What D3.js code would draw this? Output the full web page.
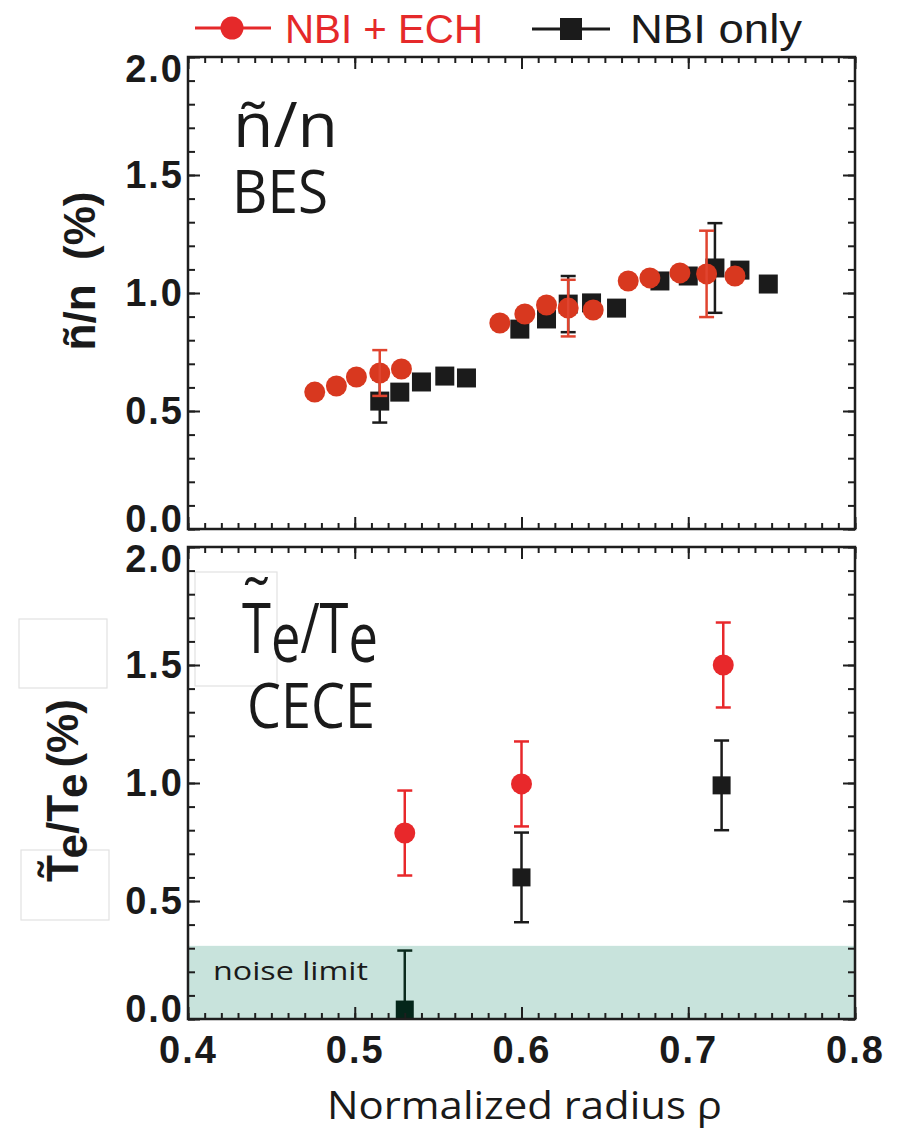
<!DOCTYPE html>
<html>
<head>
<meta charset="utf-8">
<script src="https://cdn.jsdelivr.net/npm/d3@7"></script>
<style>
body { margin: 0; background: #fff; }
svg { display: block; }
</style>
</head>
<body>
<div id="chart"></div>
<script>
//
// BES / CECE fluctuation profiles, NBI+ECH vs NBI only
//

var rhoTicks = [0.4, 0.5, 0.6, 0.7, 0.8];
var valTicks = [0.0, 0.5, 1.0, 1.5, 2.0];

// top panel: density fluctuation (BES)
var besEchRho = [0.476, 0.489, 0.501, 0.515, 0.528, 0.587, 0.602, 0.615, 0.628, 0.643, 0.664, 0.677, 0.695, 0.711, 0.728];
var besEchVal = [0.580, 0.606, 0.644, 0.661, 0.678, 0.873, 0.911, 0.949, 0.936, 0.928, 1.051, 1.064, 1.085, 1.081, 1.072];
var besEchErr = [0, 0, 0, 0.097, 0, 0, 0, 0, 0.120, 0, 0, 0, 0, 0.183, 0];

var besNbiRho = [0.515, 0.527, 0.540, 0.554, 0.567, 0.599, 0.615, 0.628, 0.642, 0.657, 0.683, 0.700, 0.716, 0.731, 0.748];
var besNbiVal = [0.542, 0.580, 0.623, 0.648, 0.640, 0.847, 0.890, 0.953, 0.958, 0.936, 1.051, 1.072, 1.106, 1.097, 1.038];
var besNbiErr = [0.091, 0, 0, 0, 0, 0, 0, 0.119, 0, 0, 0, 0, 0.190, 0, 0];

// bottom panel: electron temperature fluctuation (CECE)
var ceceEchRho = [0.530, 0.600, 0.721];
var ceceEchVal = [0.788, 0.996, 1.500];
var ceceEchErr = [0.180, 0.180, 0.180];

var ceceNbiRho = [0.530, 0.600, 0.720];
var ceceNbiVal = [0.040, 0.600, 0.990];
var ceceNbiErr = [0.250, 0.190, 0.190];

var noiseLimit = 0.31;

var W = 900, H = 1133;
var left = 188, right = 855;
var topPanel = { y0: 529, y1: 57 };
var botPanel = { y0: 1019, y1: 547 };

var svg = d3.select("#chart").append("svg")
    .attr("width", W).attr("height", H);

var x = d3.scaleLinear().domain([0.4, 0.8]).range([left, right]);
var yTop = d3.scaleLinear().domain([0, 2]).range([topPanel.y0, topPanel.y1]);
var yBot = d3.scaleLinear().domain([0, 2]).range([botPanel.y0, botPanel.y1]);

var frameColor = "#1e1e1e";
var redTop = "#d8381f", redTopBar = "#e0442f";
var redBot = "#e8282b";
var blk = "#1b1b1b";

// faint pasted boxes left over in the figure
[[19, 619, 88, 69], [195, 572, 82, 114], [21, 850, 88, 70]].forEach(function (b) {
    svg.append("rect").attr("x", b[0]).attr("y", b[1]).attr("width", b[2]).attr("height", b[3])
        .attr("fill", "#fff").attr("stroke", "#e2e2e2").attr("stroke-width", 1.2);
});

function zip(r, v, e) {
    return r.map(function (d, i) { return { r: d, v: v[i], e: e[i] }; });
}

function drawTicks(g, y) {
    var y0 = y.range()[0], y1 = y.range()[1];
    var xMinor = x.ticks(40), yMinor = y.ticks(20);
    var sets = [
        [d3.axisBottom(x).tickValues(xMinor).tickSize(-6), "translate(0," + y0 + ")"],
        [d3.axisBottom(x).tickValues(rhoTicks).tickSize(-12), "translate(0," + y0 + ")"],
        [d3.axisTop(x).tickValues(xMinor).tickSize(-6), "translate(0," + y1 + ")"],
        [d3.axisTop(x).tickValues(rhoTicks).tickSize(-12), "translate(0," + y1 + ")"],
        [d3.axisLeft(y).tickValues(yMinor).tickSize(-7), "translate(" + left + ",0)"],
        [d3.axisLeft(y).tickValues(valTicks).tickSize(-12), "translate(" + left + ",0)"],
        [d3.axisRight(y).tickValues(yMinor).tickSize(-7), "translate(" + right + ",0)"],
        [d3.axisRight(y).tickValues(valTicks).tickSize(-12), "translate(" + right + ",0)"]
    ];
    sets.forEach(function (s) {
        var a = g.append("g").attr("transform", s[1])
            .call(s[0].tickSizeOuter(0).tickFormat(""));
        a.select(".domain").remove();
        a.selectAll("line").attr("stroke", frameColor).attr("stroke-width", 2);
    });

    // y tick labels
    var lab = g.append("g").attr("transform", "translate(" + (left - 4) + ",0)")
        .call(d3.axisLeft(y).tickValues(valTicks).tickSize(0).tickPadding(0).tickFormat(d3.format(".1f")));
    lab.select(".domain").remove();
    lab.selectAll("text")
        .attr("font-family", "Liberation Sans, Arial, sans-serif")
        .attr("font-weight", "bold")
        .attr("font-size", 38)
        .attr("letter-spacing", 2)
        .attr("fill", "#1a1a1a")
        .attr("y", function (d) { return d === 2 ? 12 : (d === 0 ? -10 : 0); });

    g.append("rect").attr("x", left).attr("y", y1)
        .attr("width", right - left).attr("height", y0 - y1)
        .attr("fill", "none").attr("stroke", frameColor).attr("stroke-width", 2.5);
}

function errBars(g, data, y, color) {
    var cap = 7.5;
    data.filter(function (d) { return d.e > 0; }).forEach(function (d) {
        var lo = Math.max(0, d.v - d.e), hi = d.v + d.e;
        var cx = x(d.r);
        g.append("line").attr("x1", cx).attr("x2", cx).attr("y1", y(lo)).attr("y2", y(hi))
            .attr("stroke", color).attr("stroke-width", 2.5);
        g.append("line").attr("x1", cx - cap).attr("x2", cx + cap).attr("y1", y(hi)).attr("y2", y(hi))
            .attr("stroke", color).attr("stroke-width", 2.5);
        if (d.v - d.e > 0)
            g.append("line").attr("x1", cx - cap).attr("x2", cx + cap).attr("y1", y(lo)).attr("y2", y(lo))
                .attr("stroke", color).attr("stroke-width", 2.5);
    });
}

function squares(g, data, y, color, size) {
    g.selectAll(null).data(data).enter().append("rect")
        .attr("x", function (d) { return x(d.r) - size / 2; })
        .attr("y", function (d) { return y(d.v) - size / 2; })
        .attr("width", size).attr("height", size)
        .attr("fill", color);
}

function circles(g, data, y, color, r) {
    g.selectAll(null).data(data).enter().append("circle")
        .attr("cx", function (d) { return x(d.r); })
        .attr("cy", function (d) { return y(d.v); })
        .attr("r", r)
        .attr("fill", color);
}

// clip for the plotting areas
var defs = svg.append("defs");
defs.append("clipPath").attr("id", "clipBot").append("rect")
    .attr("x", left).attr("y", botPanel.y1).attr("width", right - left).attr("height", botPanel.y0 - botPanel.y1);

// ---------- top panel ----------
var gTop = svg.append("g");
var besNbi = zip(besNbiRho, besNbiVal, besNbiErr);
var besEch = zip(besEchRho, besEchVal, besEchErr);
errBars(gTop, besNbi, yTop, blk);
squares(gTop, besNbi, yTop, blk, 19);
circles(gTop, besEch, yTop, redTop, 10.5);
errBars(gTop, besEch, yTop, redTopBar);
drawTicks(gTop, yTop);

gTop.append("text").attr("x", 233).attr("y", 147)
    .attr("font-family", "Open Sans, Noto Sans, sans-serif").attr("font-size", 62)
    .attr("textLength", 105).attr("lengthAdjust", "spacingAndGlyphs")
    .attr("fill", "#1a1a1a").text("ñ/n");
gTop.append("text").attr("x", 232).attr("y", 213)
    .attr("font-family", "Open Sans, Noto Sans, sans-serif").attr("font-size", 60)
    .attr("textLength", 96).attr("lengthAdjust", "spacingAndGlyphs")
    .attr("fill", "#1a1a1a").text("BES");

// y label top
var yl1 = svg.append("g").attr("transform", "translate(95,271) rotate(-90)");
yl1.append("text").attr("text-anchor", "middle")
    .attr("font-family", "Liberation Sans, Arial, sans-serif").attr("font-weight", "bold")
    .attr("font-size", 44).attr("fill", "#1a1a1a")
    .style("white-space", "pre").text("ñ/n  (%)");

// ---------- bottom panel ----------
var gBot = svg.append("g");
gBot.append("rect").attr("x", left).attr("width", right - left)
    .attr("y", yBot(noiseLimit)).attr("height", yBot(0) - yBot(noiseLimit))
    .attr("fill", "#c8e3dc");
gBot.append("text").attr("x", 213).attr("y", 980)
    .attr("font-family", "Open Sans, Noto Sans, sans-serif").attr("font-size", 26)
    .attr("textLength", 155).attr("lengthAdjust", "spacingAndGlyphs")
    .attr("fill", "#1a1a1a").text("noise limit");

var gBotData = gBot.append("g").attr("clip-path", "url(#clipBot)");
var ceceNbi = zip(ceceNbiRho, ceceNbiVal, ceceNbiErr);
var ceceEch = zip(ceceEchRho, ceceEchVal, ceceEchErr);
// the point inside the noise band is drawn in a dark green
errBars(gBotData, ceceNbi.slice(0, 1), yBot, "#0b2a1d");
squares(gBotData, ceceNbi.slice(0, 1), yBot, "#04261a", 18);
errBars(gBotData, ceceNbi.slice(1), yBot, blk);
squares(gBotData, ceceNbi.slice(1), yBot, blk, 18);
errBars(gBotData, ceceEch, yBot, redBot);
circles(gBotData, ceceEch, yBot, redBot, 10.5);
drawTicks(gBot, yBot);

// inner label T~e/Te
var inner = gBot.append("text").attr("x", 242).attr("y", 653)
    .attr("font-family", "Open Sans, Noto Sans, sans-serif").attr("font-size", 70)
    .attr("fill", "#1a1a1a")
    .attr("textLength", 136).attr("lengthAdjust", "spacingAndGlyphs");
inner.append("tspan").text("T");
inner.append("tspan").attr("dy", 9).text("e");
inner.append("tspan").attr("dy", -9).text("/");
inner.append("tspan").text("T");
inner.append("tspan").attr("dy", 9).text("e");
var tS = inner.node().getStartPositionOfChar(0), tE = inner.node().getEndPositionOfChar(0);
gBot.append("text").attr("x", (tS.x + tE.x) / 2).attr("y", 624)
    .attr("text-anchor", "middle")
    .attr("font-family", "Open Sans, Noto Sans, sans-serif").attr("font-size", 64)
    .attr("fill", "#1a1a1a").text("˜");

gBot.append("text").attr("x", 247).attr("y", 728)
    .attr("font-family", "Open Sans, Noto Sans, sans-serif").attr("font-size", 63)
    .attr("textLength", 128).attr("lengthAdjust", "spacingAndGlyphs")
    .attr("fill", "#1a1a1a").text("CECE");

// y label bottom
var yl2 = svg.append("g").attr("transform", "translate(78,787) rotate(-90)");
var yt2 = yl2.append("text").attr("x", -95)
    .attr("font-family", "Liberation Sans, Arial, sans-serif").attr("font-weight", "bold")
    .attr("font-size", 44).attr("fill", "#1a1a1a");
yt2.append("tspan").text("T");
yt2.append("tspan").attr("dy", 9).text("e");
yt2.append("tspan").attr("dy", -9).text("/T");
yt2.append("tspan").attr("dy", 9).text("e");
yt2.append("tspan").attr("dy", -9).attr("dx", 6).text("(%)");
var s2 = yt2.node().getStartPositionOfChar(0), e2 = yt2.node().getEndPositionOfChar(0);
yl2.append("text").attr("x", (s2.x + e2.x) / 2).attr("y", -8)
    .attr("text-anchor", "middle")
    .attr("font-family", "Liberation Sans, Arial, sans-serif").attr("font-weight", "bold")
    .attr("font-size", 44).attr("fill", "#1a1a1a").text("˜");

// x tick labels and title
var xl = svg.append("g").attr("transform", "translate(0," + botPanel.y0 + ")")
    .call(d3.axisBottom(x).tickValues(rhoTicks).tickSize(0).tickPadding(17).tickFormat(d3.format(".1f")));
xl.select(".domain").remove();
xl.selectAll("text")
    .attr("font-family", "Liberation Sans, Arial, sans-serif")
    .attr("font-weight", "bold").attr("font-size", 38).attr("letter-spacing", 2)
    .attr("fill", "#1a1a1a");

svg.append("text").attr("x", 327).attr("y", 1119)
    .attr("font-family", "Open Sans, Noto Sans, sans-serif").attr("font-size", 38)
    .attr("textLength", 395).attr("lengthAdjust", "spacingAndGlyphs")
    .attr("fill", "#1a1a1a").text("Normalized radius ρ");

// ---------- legend ----------
var lg = svg.append("g");
lg.append("line").attr("x1", 195).attr("x2", 271).attr("y1", 28).attr("y2", 28)
    .attr("stroke", "#e5292a").attr("stroke-width", 3);
lg.append("circle").attr("cx", 232).attr("cy", 28).attr("r", 11.5).attr("fill", "#e5292a");
lg.append("text").attr("x", 285).attr("y", 43)
    .attr("font-family", "Liberation Sans, Arial, sans-serif").attr("font-size", 40)
    .attr("textLength", 198).attr("lengthAdjust", "spacingAndGlyphs")
    .attr("fill", "#e5292a").text("NBI + ECH");

lg.append("line").attr("x1", 532).attr("x2", 610).attr("y1", 29).attr("y2", 29)
    .attr("stroke", blk).attr("stroke-width", 3);
lg.append("rect").attr("x", 560).attr("y", 18).attr("width", 22).attr("height", 22).attr("fill", blk);
lg.append("text").attr("x", 630).attr("y", 43)
    .attr("font-family", "Liberation Sans, Arial, sans-serif").attr("font-size", 40)
    .attr("textLength", 172).attr("lengthAdjust", "spacingAndGlyphs")
    .attr("fill", blk).text("NBI only");
</script>
</body>
</html>
